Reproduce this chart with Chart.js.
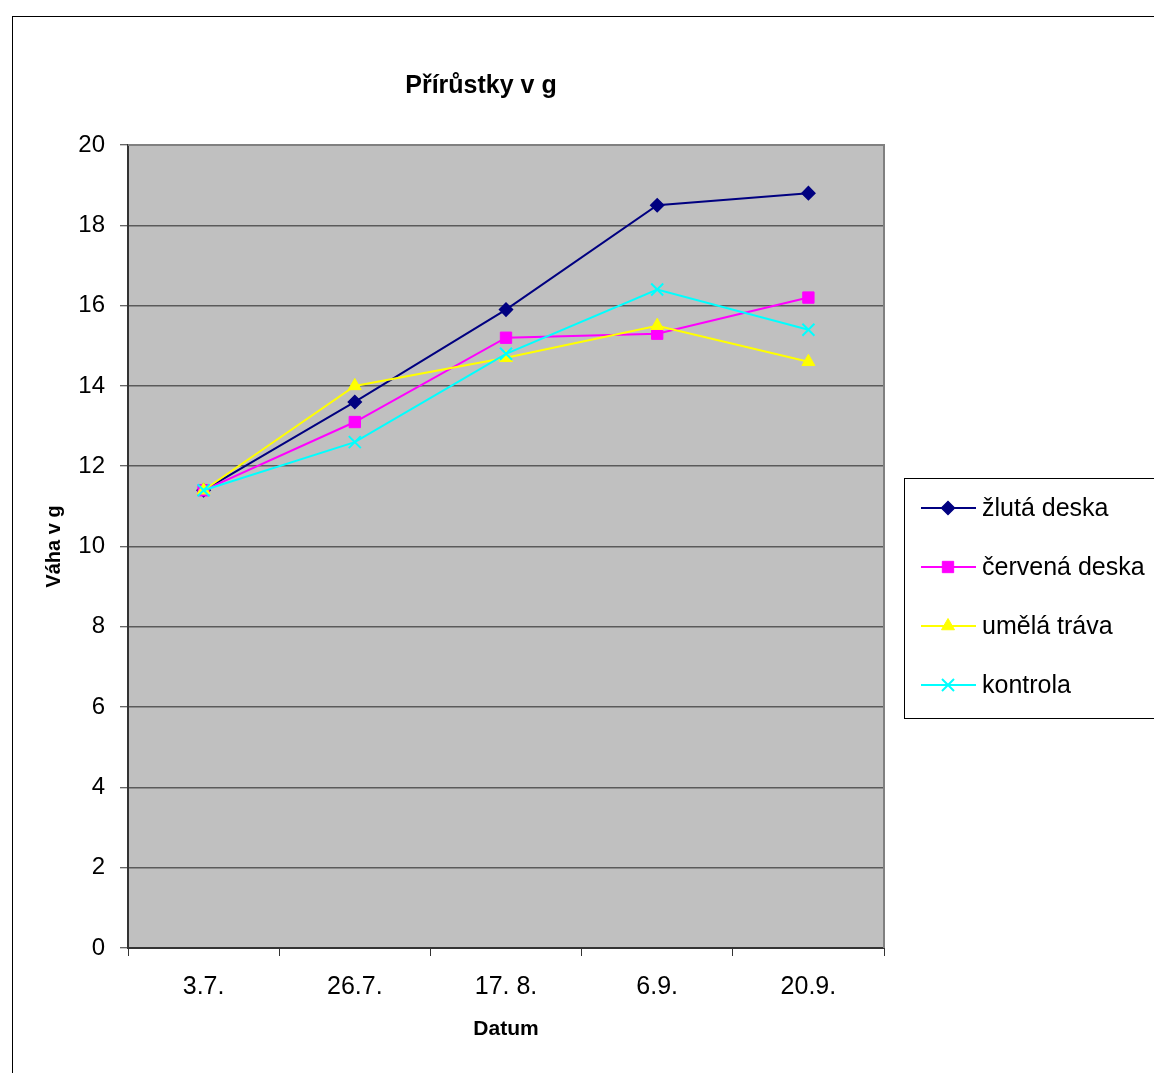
<!DOCTYPE html>
<html>
<head>
<meta charset="utf-8">
<script src="https://cdn.jsdelivr.net/npm/chart.js@4/dist/chart.umd.min.js"></script>
<style>
  html, body { margin: 0; padding: 0; background: #ffffff; }
  #wrap { width: 1154px; height: 1073px; }
</style>
</head>
<body>
<div id="wrap"><canvas id="c" width="1154" height="1073"></canvas></div>
<script>
// Měření přírůstků – data
const dates = ['3.7.', '26.7.', '17. 8.', '6.9.', '20.9.'];
const zlutaDeska = [11.4, 13.6, 15.9, 18.5, 18.8];
const cervenaDeska = [11.4, 13.1, 15.2, 15.3, 16.2];
const umelaTrava = [11.4, 14.0, 14.7, 15.5, 14.6];
const kontrola = [11.4, 12.6, 14.8, 16.4, 15.4];
const seriesNames = ['žlutá deska', 'červená deska', 'umělá tráva', 'kontrola'];
const yTicks = [0, 2, 4, 6, 8, 10, 12, 14, 16, 18, 20];

const FONT = '"Liberation Sans", Arial, sans-serif';

const styles = [
  { color: '#000080', pointStyle: 'rectRot', radius: 6.5, borderWidth: 1.5 },
  { color: '#FF00FF', pointStyle: 'rect', radius: 8, borderWidth: 1 },
  { color: '#FFFF00', pointStyle: 'triangle', radius: 7.5, borderWidth: 1 },
  { color: '#00FFFF', pointStyle: 'crossRot', radius: 8.5, borderWidth: 2 }
];

const seriesValues = [zlutaDeska, cervenaDeska, umelaTrava, kontrola];

const datasets = seriesValues.map((vals, i) => ({
  label: seriesNames[i],
  data: vals,
  borderColor: styles[i].color,
  backgroundColor: styles[i].color,
  borderWidth: 2,
  pointStyle: styles[i].pointStyle,
  pointRadius: styles[i].radius,
  pointHoverRadius: styles[i].radius,
  pointBorderWidth: styles[i].borderWidth,
  pointBackgroundColor: styles[i].color,
  pointBorderColor: styles[i].color,
  tension: 0,
  order: 4 - i
}));

// Pozadí grafu, rámečky, nadpis a legenda
const decor = {
  id: 'decor',
  beforeDraw(chart) {
    const { ctx, chartArea: a } = chart;
    ctx.save();
    ctx.fillStyle = '#ffffff';
    ctx.fillRect(0, 0, chart.width, chart.height);
    ctx.fillStyle = '#C0C0C0';
    ctx.fillRect(a.left, a.top, a.right - a.left, a.bottom - a.top);
    // vnější rámeček
    ctx.strokeStyle = '#000000';
    ctx.lineWidth = 1;
    ctx.strokeRect(12.5, 16.5, 1400, 1400);
    ctx.restore();
  },
  afterDatasetsDraw(chart) {
    const { ctx, chartArea: a } = chart;
    ctx.save();
    // horní a pravý okraj plochy grafu
    ctx.strokeStyle = '#808080';
    ctx.lineWidth = 2;
    ctx.beginPath();
    ctx.moveTo(a.left, a.top);
    ctx.lineTo(a.right, a.top);
    ctx.lineTo(a.right, a.bottom);
    ctx.stroke();
    ctx.restore();
  },
  afterDraw(chart) {
    const { ctx } = chart;
    ctx.save();
    // nadpis
    ctx.fillStyle = '#000000';
    ctx.font = 'bold 25px ' + FONT;
    ctx.textAlign = 'center';
    ctx.textBaseline = 'middle';
    ctx.fillText('Přírůstky v g', 481, 86);

    // legenda
    ctx.strokeStyle = '#000000';
    ctx.lineWidth = 1;
    ctx.fillStyle = '#ffffff';
    ctx.fillRect(904.5, 478.5, 300, 240);
    ctx.strokeRect(904.5, 478.5, 300, 240);
    const rowY = [508, 567, 626, 685];
    chart.data.datasets.forEach((ds, i) => {
      const y = rowY[i];
      ctx.strokeStyle = ds.borderColor;
      ctx.lineWidth = 2;
      ctx.beginPath();
      ctx.moveTo(921, y);
      ctx.lineTo(976, y);
      ctx.stroke();
      ctx.fillStyle = ds.pointBackgroundColor;
      ctx.strokeStyle = ds.pointBorderColor;
      ctx.lineWidth = ds.pointBorderWidth;
      if (Chart.helpers && Chart.helpers.drawPoint) {
        Chart.helpers.drawPoint(ctx, {
          pointStyle: ds.pointStyle,
          radius: ds.pointRadius,
          rotation: 0,
          borderWidth: ds.pointBorderWidth
        }, 948, y);
      }
      ctx.fillStyle = '#000000';
      ctx.font = '25px ' + FONT;
      ctx.textAlign = 'left';
      ctx.textBaseline = 'middle';
      ctx.fillText(ds.label, 982, y + 1);
    });
    ctx.restore();
  }
};

new Chart(document.getElementById('c'), {
  type: 'line',
  data: { labels: dates, datasets },
  options: {
    responsive: false,
    animation: false,
    devicePixelRatio: 1,
    layout: { padding: { top: 145, right: 270, bottom: 0, left: 0 } },
    plugins: {
      legend: { display: false },
      title: { display: false },
      tooltip: { enabled: false }
    },
    scales: {
      x: {
        type: 'category',
        offset: true,
        afterFit(scale) { scale.height = 125; },
        grid: {
          offset: true,
          drawOnChartArea: false,
          drawTicks: true,
          tickLength: 8,
          tickColor: '#333333',
          tickWidth: 1
        },
        border: { display: true, color: '#333333', width: 2 },
        ticks: {
          color: '#000000',
          font: { family: FONT, size: 25 },
          padding: 16,
          maxRotation: 0
        },
        title: {
          display: true,
          text: 'Datum',
          color: '#000000',
          font: { family: FONT, size: 21, weight: 'bold' },
          padding: { top: 0, bottom: 31 }
        }
      },
      y: {
        min: 0,
        max: 20,
        afterFit(scale) { scale.width = 128; },
        afterBuildTicks(scale) { scale.ticks = yTicks.map(v => ({ value: v })); },
        grid: {
          color: '#5a5a5a',
          lineWidth: 1.5,
          drawTicks: true,
          tickLength: 8,
          tickColor: '#333333',
          tickWidth: 1
        },
        border: { display: true, color: '#333333', width: 2 },
        ticks: {
          color: '#000000',
          font: { family: FONT, size: 24 },
          padding: 15
        },
        title: {
          display: true,
          text: 'Váha v g',
          color: '#000000',
          font: { family: FONT, size: 20, weight: 'bold' },
          padding: { top: 42, bottom: 0 }
        }
      }
    }
  },
  plugins: [decor]
});
</script>
</body>
</html>
